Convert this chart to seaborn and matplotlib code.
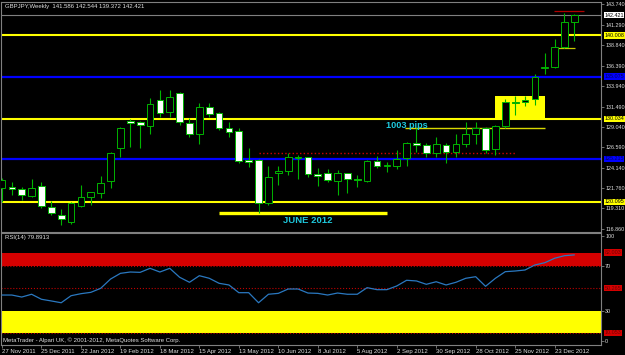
import numpy as np
import pandas as pd
import matplotlib
matplotlib.use("Agg")
import matplotlib.pyplot as plt
from matplotlib.patches import Rectangle
import seaborn as sns

# ---------------- data ----------------
dates = pd.date_range("2011-11-27", periods=59, freq="7D")
opens = [121.73, 121.82, 121.58, 120.81, 121.97, 119.49, 118.50, 117.70, 119.61, 120.69,
         121.10, 122.61, 126.49, 129.72, 129.64, 129.16, 132.28, 130.87, 133.08, 129.56,
         128.17, 131.40, 130.68, 128.89, 128.56, 125.09, 125.09, 119.90, 123.57, 123.81,
         125.33, 125.41, 123.37, 123.49, 122.61, 123.49, 122.81, 122.61, 124.97, 124.37,
         124.37, 125.29, 127.16, 126.88, 125.96, 126.88, 126.01, 126.97, 128.17, 128.89,
         126.41, 129.16, 131.95, 132.00, 132.40, 136.14, 136.27, 138.66, 141.586]
highs = [122.93, 122.42, 121.89, 122.81, 122.49, 120.21, 119.18, 120.00, 122.09, 121.29,
         123.21, 126.08, 129.08, 129.99, 129.79, 132.48, 133.47, 133.47, 133.27, 130.08,
         131.88, 131.88, 130.87, 129.67, 128.89, 126.49, 125.17, 124.37, 124.37, 125.96,
         125.69, 125.48, 124.09, 123.97, 123.89, 123.57, 123.29, 125.09, 125.57, 124.88,
         126.29, 127.28, 128.89, 127.09, 127.88, 127.09, 128.20, 129.67, 129.60, 129.08,
         129.28, 132.40, 132.75, 132.75, 135.39, 137.87, 139.55, 142.66, 142.544]
lows = [120.05, 120.89, 120.29, 120.62, 119.30, 118.50, 117.30, 117.42, 119.49, 119.70,
        120.50, 121.70, 125.41, 126.68, 126.56, 128.20, 130.27, 130.27, 129.28, 127.88,
        127.00, 130.27, 128.68, 127.81, 124.69, 124.21, 118.77, 119.70, 122.09, 123.29,
        122.81, 123.09, 121.97, 122.49, 120.89, 121.17, 121.82, 122.42, 124.09, 123.69,
        123.97, 124.37, 126.08, 125.45, 125.48, 124.69, 125.48, 126.68, 127.00, 125.96,
        125.69, 128.89, 130.48, 131.55, 131.68, 135.39, 136.07, 138.47, 139.372]
closes = [122.69, 121.65, 120.89, 121.70, 119.57, 118.77, 117.98, 119.97, 120.69, 121.22,
          122.30, 125.96, 128.89, 129.48, 129.24, 131.80, 130.68, 132.67, 129.60, 128.20,
          131.40, 130.56, 128.95, 128.41, 125.00, 124.81, 119.90, 123.01, 123.81, 125.41,
          125.41, 123.37, 123.20, 122.69, 123.57, 122.77, 122.69, 124.97, 124.37, 124.52,
          125.21, 127.16, 126.88, 125.96, 126.97, 126.01, 126.97, 128.20, 128.92, 126.29,
          129.16, 132.07, 132.07, 132.28, 134.99, 136.27, 138.66, 141.58, 142.421]
rsi = [44.0, 44.0, 42.2, 44.7, 40.2, 38.7, 37.1, 43.4, 45.2, 46.4,
       50.0, 58.3, 63.4, 64.6, 64.3, 67.9, 64.6, 67.9, 59.9, 55.4,
       61.3, 59.0, 54.5, 53.0, 46.1, 46.1, 37.1, 44.7, 45.5, 49.4,
       49.4, 45.8, 45.5, 44.0, 45.8, 44.7, 44.7, 50.6, 48.8, 48.8,
       52.1, 57.2, 56.6, 53.6, 55.9, 53.0, 55.4, 59.0, 60.4, 51.8,
       59.0, 64.9, 65.5, 66.4, 70.9, 72.9, 76.9, 79.2, 79.9]

price_ticks = [143.740, 141.290, 138.840, 136.390, 133.940, 131.490, 129.040,
               126.590, 124.140, 121.760, 119.310, 116.860]
yellow_levels = [140.008, 130.034, 120.095]
blue_levels = [135.075, 125.215]
current_price = 142.421
rsi_ticks = [70, 30]
rsi_levels = [82.003, 50.265, 10.053]

title = "GBPJPY,Weekly  141.586 142.544 139.372 142.421"
rsi_title = "RSI(14) 79.8913"
copyright_txt = "MetaTrader - Alpari UK, \u00a9 2001-2012, MetaQuotes Software Corp."

# ---------------- style ----------------
sns.set_theme(style="dark")
plt.rcParams["font.family"] = ["Liberation Sans", "DejaVu Sans"]
FS = 4.3
FSR = 3.9
TXT = "#e0e0e0"
GRID = "#808080"
GREEN = "#00b400"

df = pd.DataFrame({"idx": np.arange(len(opens)), "open": opens, "high": highs,
                   "low": lows, "close": closes, "rsi": rsi})
df["bull"] = df["close"] >= df["open"]

W, H = 625, 355
fig = plt.figure(figsize=(W / 100, H / 100), dpi=100, facecolor="black")
ax = fig.add_axes([1 / W, 1 - 232 / H, 600 / W, 230 / H])
ax2 = fig.add_axes([1 / W, 1 - 345 / H, 600 / W, 112 / H], sharex=ax)

for a in (ax, ax2):
    a.set_facecolor("black")
    for s in a.spines.values():
        s.set_color(GRID)
        s.set_linewidth(0.8)
    a.grid(False)

# ---------------- main panel ----------------
ax.set_xlim(-0.1, 60.7)
ax.set_ylim(116.46, 144.015)

for lv in yellow_levels:
    ax.axhline(lv, color="#ffff00", lw=1.5, zorder=2)
for lv in blue_levels:
    ax.axhline(lv, color="#0000ff", lw=1.6, zorder=2)
ax.axhline(current_price, color=GRID, lw=0.8, zorder=2)

# highlight box and marker lines
ax.add_patch(Rectangle((49.96, yellow_levels[1]), 5.07, 132.79 - yellow_levels[1],
                       facecolor="#ffff00", edgecolor="none", zorder=2.5))
ax.hlines(125.96, 26.05, 52.0, color="#d00000", lw=1.0, linestyles=":", zorder=2.6)
ax.hlines(128.96, 40.8, 55.0, color="#d8d800", lw=1.0, zorder=2.6)
ax.hlines(118.74, 22.0, 39.0, color="#ffff00", lw=2.4, zorder=2.6)
ax.hlines(138.47, 56.35, 58.1, color="#c8c800", lw=0.9, zorder=2.6)
ax.hlines(142.94, 55.9, 59.0, color="#b00000", lw=0.9, zorder=2.6)

# candles
ax.vlines(df["idx"], df["low"], df["high"], color=GREEN, lw=0.8, zorder=3)
body_lo = np.minimum(df["open"], df["close"])
body_h = np.maximum(np.abs(df["close"] - df["open"]), 0.06)
ax.bar(df["idx"], body_h, bottom=body_lo, width=0.68,
       color=np.where(df["bull"], "black", "white"),
       edgecolor=GREEN, linewidth=0.7, zorder=4)

ax.text(38.9, 129.16, "1003 pips", color="#1ec8dc", fontsize=6.6,
        fontweight="bold", ha="left", va="center", zorder=5)
ax.text(31.0, 117.78, "JUNE 2012", color="#1ec8dc", fontsize=6.8,
        fontweight="bold", ha="center", va="center", zorder=5)
ax.text(0.006, 0.981, title, transform=ax.transAxes, color=TXT, fontsize=FS,
        ha="left", va="center")

ax.yaxis.tick_right()
ax.set_yticks(price_ticks)
ax.set_yticklabels([f"{v:.3f}" for v in price_ticks])
ax.tick_params(axis="y", colors=GRID, labelcolor=TXT, labelsize=FSR,
               length=2, width=0.6, pad=1.0, right=True, left=False)
ax.tick_params(axis="x", bottom=False, labelbottom=False)


def box_label(axis, val, text, fc, tc):
    axis.text(1.0055, val, text, transform=axis.get_yaxis_transform(), fontsize=FSR,
              color=tc, ha="left", va="center", clip_on=False, zorder=6,
              bbox=dict(boxstyle="square,pad=0.12", fc=fc, ec="none"))


box_label(ax, current_price, f"{current_price:.3f}", "white", "black")
for lv in yellow_levels:
    box_label(ax, lv, f"{lv:.3f}", "#ffff00", "black")
for lv in blue_levels:
    box_label(ax, lv, f"{lv:.3f}", "#0000ff", "#000060")

# ---------------- RSI panel ----------------
ax2.set_ylim(-0.7, 99.5)
ax2.axhspan(70, rsi_levels[0], color="#d40000", lw=0, zorder=1)
ax2.axhspan(rsi_levels[2], 30, color="#ffff00", lw=0, zorder=1)
for lv in [70] + rsi_levels[1:]:
    ax2.axhline(lv, color="#c00000", lw=0.8, ls=":", zorder=2)
sns.lineplot(data=df, x="idx", y="rsi", ax=ax2, color="#2a78c0", lw=0.9, zorder=3)
ax2.set_xlabel("")
ax2.set_ylabel("")

ax2.yaxis.tick_right()
ax2.set_yticks([97.1] + rsi_ticks + [3.1])
ax2.set_yticklabels(["100", "70", "30", "0"])
ax2.tick_params(axis="y", colors=GRID, labelcolor=TXT, labelsize=FSR,
                length=2, width=0.6, pad=1.0, right=True, left=False)
for lv in rsi_levels:
    box_label(ax2, lv, f"{lv:.3f}", "#d40000", "#700000")

ax2.text(0.006, 0.958, rsi_title, transform=ax2.transAxes, color=TXT,
         fontsize=FS, ha="left", va="center")
ax2.text(0.004, 0.045, copyright_txt, transform=ax2.transAxes, color=TXT,
         fontsize=FS, ha="left", va="center")

tick_idx = df["idx"].values[::4]
tick_lab = [f"{d.day} {d.strftime('%b %Y')}" for d in dates[::4]]
ax2.set_xticks(tick_idx)
ax2.set_xticklabels(tick_lab, ha="left")
ax2.tick_params(axis="x", colors=GRID, labelcolor=TXT, labelsize=FS,
                length=2, width=0.6, pad=0.8, bottom=True)

fig.savefig("out.png", dpi=100, facecolor="black")
